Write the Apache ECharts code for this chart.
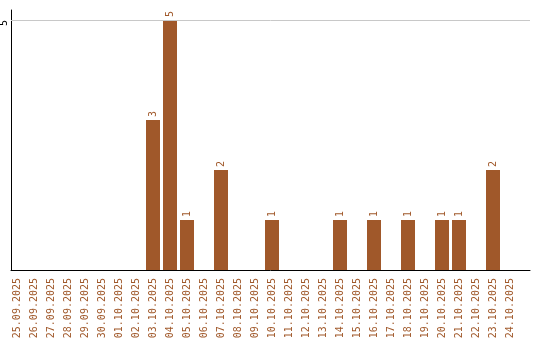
<!DOCTYPE html>
<html>
<head>
<meta charset="utf-8">
<script src="https://cdn.jsdelivr.net/npm/echarts@6/dist/echarts.min.js"></script>
<style>
  html, body { margin: 0; padding: 0; background: #fff; }
  #chart { width: 540px; height: 340px; }
</style>
</head>
<body>
<div id="chart"></div>
<script>
// Daily counts, 25.09.2025 – 24.10.2025
const days = [
  '25.09.2025', '26.09.2025', '27.09.2025', '28.09.2025', '29.09.2025',
  '30.09.2025', '01.10.2025', '02.10.2025', '03.10.2025', '04.10.2025',
  '05.10.2025', '06.10.2025', '07.10.2025', '08.10.2025', '09.10.2025',
  '10.10.2025', '11.10.2025', '12.10.2025', '13.10.2025', '14.10.2025',
  '15.10.2025', '16.10.2025', '17.10.2025', '18.10.2025', '19.10.2025',
  '20.10.2025', '21.10.2025', '22.10.2025', '23.10.2025', '24.10.2025'
];
const counts = [
  0, 0, 0, 0, 0,
  0, 0, 0, 3, 5,
  1, 0, 2, 0, 0,
  1, 0, 0, 0, 1,
  0, 1, 0, 1, 0,
  1, 1, 0, 2, 0
];
const yTicks = [5];

const brown = '#A0582A';
const mono = '"DejaVu Sans Mono", "Liberation Mono", monospace';

const chart = echarts.init(document.getElementById('chart'), null, { renderer: 'canvas' });
chart.setOption({
  animation: false,
  backgroundColor: '#ffffff',
  grid: [
    { left: 8.5, right: 21.5, top: 10, bottom: 70, outerBoundsMode: 'none', containLabel: false },
    { left: 11, right: 10, top: 10, bottom: 70, outerBoundsMode: 'none', containLabel: false }
  ],
  xAxis: [
    {
      type: 'category', gridIndex: 0, data: days,
      axisLine: { show: false }, axisTick: { show: false },
      axisLabel: {
        interval: 0, rotate: 90, margin: 8,
        color: brown, fontFamily: mono, fontSize: 10
      }
    },
    {
      type: 'value', gridIndex: 1, min: 0, max: 1,
      axisLine: { show: true, lineStyle: { color: '#000', width: 1 } },
      axisTick: { show: false }, axisLabel: { show: false }, splitLine: { show: false }
    }
  ],
  yAxis: [
    {
      type: 'value', gridIndex: 0, min: 0, max: 5.2,
      show: false, splitLine: { show: false }
    },
    {
      type: 'value', gridIndex: 1, min: 0, max: 5.2, interval: 5,
      axisLine: { show: true, lineStyle: { color: '#000', width: 1 } },
      axisTick: { show: false }, splitLine: { show: false },
      axisLabel: {
        rotate: 90, margin: 3, lineHeight: 8, align: 'right',
        color: '#000', fontFamily: mono, fontSize: 10,
        formatter: v => (yTicks.includes(v) ? String(v) : '')
      }
    }
  ],
  series: [
    {
      type: 'bar', xAxisIndex: 0, yAxisIndex: 0,
      data: counts.map(v => (v > 0 ? v : null)),
      barWidth: 14,
      itemStyle: { color: brown },
      label: {
        show: true, position: 'top', rotate: 90, distance: 3,
        align: 'left', verticalAlign: 'middle',
        color: brown, fontFamily: mono, fontSize: 10
      }
    },
    {
      type: 'line', xAxisIndex: 1, yAxisIndex: 1, data: [],
      markLine: {
        silent: true, symbol: 'none', label: { show: false },
        lineStyle: { color: '#c8c8c8', width: 1, type: 'solid' },
        data: yTicks.map(t => ({ yAxis: t }))
      }
    }
  ]
});
</script>
</body>
</html>
